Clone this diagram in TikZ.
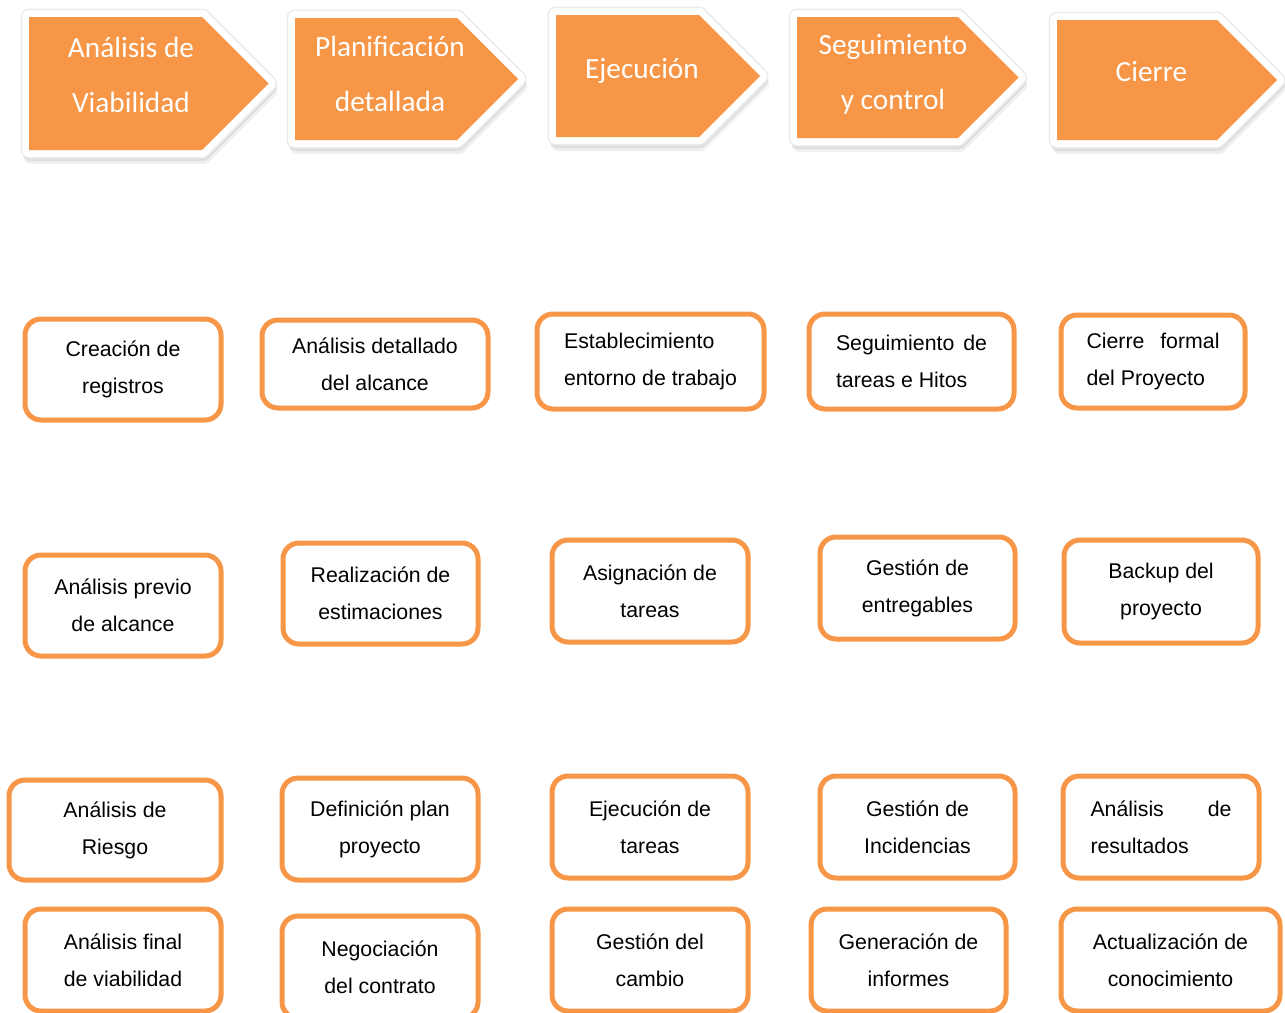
\documentclass[tikz,border=0pt]{standalone}
\usepackage{fontspec}
\newfontfamily\chevfont{Carlito}
\newfontfamily\boxfont{Liberation Sans}
\definecolor{naranja}{RGB}{247,150,70}

\begin{document}
\begin{tikzpicture}[x=1pt,y=1pt,yscale=-1,
  fase/.style={fill=naranja,
    preaction={draw=black!6, fill=black!6, line width=14, line join=round, transform canvas={shift={(2,-7)}}},
    preaction={draw=black!13, fill=black!13, line width=14, line join=round, transform canvas={shift={(1,-4)}}},
    preaction={draw=black!8, line width=17, line join=round},
    preaction={draw=white, line width=14, line join=round}},
  fasetxt/.style={text=white, align=center, inner sep=0, font=\chevfont\fontsize{29.3}{55}\selectfont},
  tarea/.style={draw=naranja, line width=5, rounded corners=16, fill=white, align=center, inner sep=0,
    font=\boxfont\fontsize{21.3}{37}\selectfont}]
\useasboundingbox (0,0) rectangle (1285,1012);

%Shape: Chevron
\path [fase] (29,17) -- (202,17) -- (268.5,83.5) -- (202,150) -- (29,150) -- cycle ;
%Shape: Chevron
\path [fase] (295,18) -- (457,18) -- (518,79) -- (457,140) -- (295,140) -- cycle ;
%Shape: Chevron
\path [fase] (556,15) -- (699,15) -- (760,76) -- (699,137) -- (556,137) -- cycle ;
%Shape: Chevron
\path [fase] (797,17) -- (958,17) -- (1018.5,77.5) -- (958,138) -- (797,138) -- cycle ;
%Shape: Chevron
\path [fase] (1057,20) -- (1217,20) -- (1277,80) -- (1217,140) -- (1057,140) -- cycle ;

% Text Node
\node [fasetxt] (faseViab) at (131,75) {Análisis de\\Viabilidad};
% Text Node
\node [fasetxt] (fasePlan) at (390,73.5) {Planificación\\detallada};
% Text Node
\node [fasetxt] (faseEjec) at (642,70.5) {Ejecución};
% Text Node
\node [fasetxt] (faseSeg) at (893,74) {Seguimiento\\y control};
% Text Node
\node [fasetxt] (faseCierre) at (1151.5,71.5) {Cierre};

%Row 1
\node [tarea, minimum width=196, minimum height=101] (registros) at (123,369.5) {Creación de\\registros};
\node [tarea, minimum width=226, minimum height=88] (alcanceDet) at (375,364) {Análisis detallado\\del alcance};
\node [tarea, minimum width=227, minimum height=95, align=left] (entorno) at (650.5,361.5) {Establecimiento\\entorno de trabajo};
\node [tarea, minimum width=205, minimum height=95, align=left] (hitos) at (911.5,361.5) {\hbox to 151pt{Seguimiento\hfil de}\\tareas e Hitos};
\node [tarea, minimum width=184, minimum height=93, align=left] (cierreFormal) at (1153,361.5) {\hbox to 133pt{Cierre\hfil formal}\\del Proyecto};

%Row 2
\node [tarea, minimum width=196, minimum height=101] (alcancePrevio) at (123,605.5) {Análisis previo\\de alcance};
\node [tarea, minimum width=195, minimum height=101] (estimaciones) at (380.5,593.5) {Realización de\\estimaciones};
\node [tarea, minimum width=196, minimum height=102] (asignacion) at (650,591) {Asignación de\\tareas};
\node [tarea, minimum width=195, minimum height=102] (entregables) at (917.5,588) {Gestión de\\entregables};
\node [tarea, minimum width=194, minimum height=103] (backup) at (1161,591.5) {Backup del\\proyecto};

%Row 3
\node [tarea, minimum width=212, minimum height=100] (riesgo) at (115,830) {Análisis de\\Riesgo};
\node [tarea, minimum width=196, minimum height=102] (planProyecto) at (380,829) {Definición plan\\proyecto};
\node [tarea, minimum width=196, minimum height=102] (ejecucion) at (650,827) {Ejecución de\\tareas};
\node [tarea, minimum width=195, minimum height=102] (incidencias) at (917.5,827) {Gestión de\\Incidencias};
\node [tarea, minimum width=196, minimum height=102, align=left] (resultados) at (1161,827) {\hbox to 141pt{Análisis\hfil de}\\resultados};

%Row 4
\node [tarea, minimum width=196, minimum height=102] (viabFinal) at (123,960) {Análisis final\\de viabilidad};
\node [tarea, minimum width=196, minimum height=102] (contrato) at (380,967) {Negociación\\del contrato};
\node [tarea, minimum width=196, minimum height=102] (cambio) at (650,960) {Gestión del\\cambio};
\node [tarea, minimum width=195, minimum height=102] (informes) at (908.5,960) {Generación de\\informes};
\node [tarea, minimum width=219, minimum height=102] (conocimiento) at (1170.5,960) {Actualización de\\conocimiento};

\end{tikzpicture}
\end{document}
